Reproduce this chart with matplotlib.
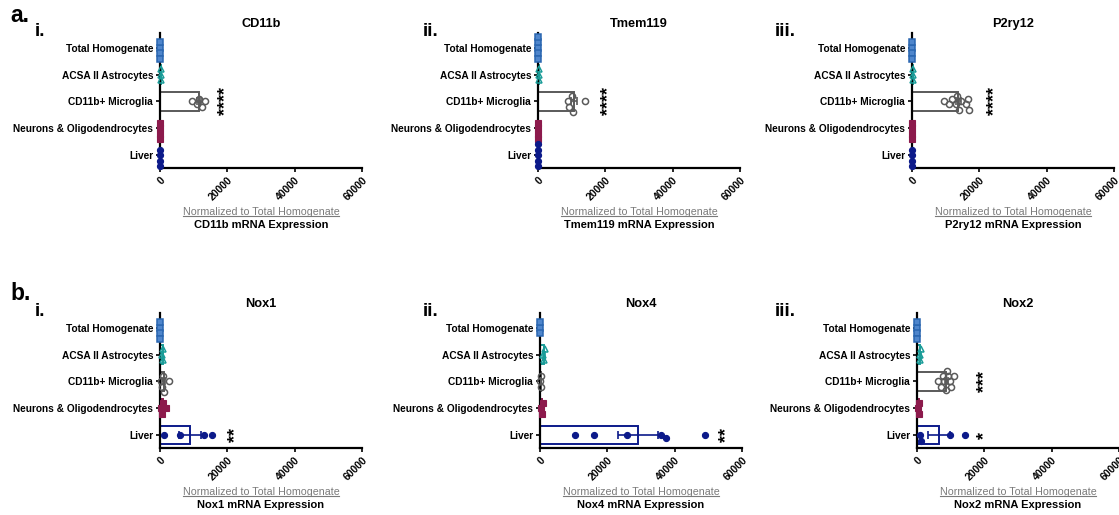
import numpy as np
import matplotlib
matplotlib.use("Agg")
import matplotlib.pyplot as plt
from matplotlib.lines import Line2D

plt.rcParams['font.family'] = ['Liberation Sans', 'DejaVu Sans']

categories = ["Total Homogenate", "ACSA II Astrocytes", "CD11b+ Microglia",
              "Neurons & Oligodendrocytes", "Liver"]
cat_colors = ["#2a66b0", "#1a9c98", "#5a5a5a", "#8c1a4c", "#0c1a8a"]
xticks = [0, 20000, 40000, 60000]

# points per category (fold change vs total homogenate)
cd11b = [[1, 1, 1, 1], [300, 400, 350], [9400, 10900, 11700, 12400, 13400],
         [60, 80, 100, 70], [10, 20, 15, 12]]
tmem119 = [[1, 1, 1, 1, 1], [200, 300, 250], [9300, 10000, 10500, 9000, 14000],
           [50, 70, 60, 80], [10, 15, 12, 20, 18]]
p2ry12 = [[1, 1, 1, 1], [200, 300, 250],
          [9500, 11000, 12000, 13000, 13500, 14000, 14500, 16000, 16500, 17000],
          [50, 70, 60, 80], [10, 15, 12, 20]]
nox1 = [[1, 1, 1, 1], [600, 800, 1000], [300, 600, 900, 1200, 2600],
        [300, 600, 900, 1900], [1200, 5900, 13100, 15300]]
nox4 = [[1, 1, 1], [800, 1200, 1600], [100, 200, 300], [400, 600, 900],
        [10500, 16100, 25700, 36000, 37500, 49000]]
nox2 = [[1, 1, 1, 1], [800, 1000, 1300],
        [6300, 7000, 7600, 8000, 8500, 8900, 9300, 9700, 10200, 10900],
        [300, 500, 700], [1000, 1100, 9700, 14300]]

# significance marks: (category index, x, text)
cd11b_sig = [(2, 19500, "****")]
tmem119_sig = [(2, 21000, "****")]
p2ry12_sig = [(2, 24500, "****")]
nox1_sig = [(4, 22500, "**")]
nox4_sig = [(4, 55500, "**")]
nox2_sig = [(2, 20000, "***"), (4, 20000, "*")]

panels = [
    ("CD11b", cd11b, cd11b_sig, "i.", 0),
    ("Tmem119", tmem119, tmem119_sig, "ii.", 0),
    ("P2ry12", p2ry12, p2ry12_sig, "iii.", 0),
    ("Nox1", nox1, nox1_sig, "i.", 1),
    ("Nox4", nox4, nox4_sig, "ii.", 1),
    ("Nox2", nox2, nox2_sig, "iii.", 1),
]

W, H = 1119, 515
fig = plt.figure(figsize=(W / 100, H / 100), dpi=100)

ax_w_px, ax_h_px = 202, 135
lefts = [[160, 538, 912], [160, 540, 917]]
bottoms = [168, 448]
numeral_x = [35, 423, 775]


def swarm(vals, xmax, diam=5.5):
    # simple beeswarm: spread overlapping points along the category axis
    vals = np.asarray(vals, float)
    placed = []
    offs = np.zeros(len(vals))
    cands = [0.0]
    for j in range(1, 30):
        cands += [j * 0.5, -j * 0.5]
    for i in np.argsort(vals):
        xp = vals[i] / xmax * ax_w_px
        for c in cands:
            yp = c * diam
            if all((xp - px) ** 2 + (yp - py) ** 2 >= (diam * 0.95) ** 2 for px, py in placed):
                break
        placed.append((xp, yp))
        offs[i] = yp / 27.0
    return offs


markers = ['s', '^', 'o', 's', 'o']
filled = [False, False, False, True, True]

for k, (gene, data, sig, numeral, row) in enumerate(panels):
    col = k % 3
    l = lefts[row][col]
    b = bottoms[row]
    ax = fig.add_axes([l / W, 1 - b / H, ax_w_px / W, ax_h_px / H])
    xmax = xticks[-1]
    for ci, pts in enumerate(data):
        pts = np.asarray(pts, float)
        mean = pts.mean()
        sem = pts.std(ddof=1) / np.sqrt(len(pts))
        c = cat_colors[ci]
        ax.barh(ci, mean, height=0.68, facecolor='none', edgecolor=c, linewidth=1.4, zorder=2)
        ax.errorbar(mean, ci, xerr=sem, fmt='none', ecolor=c, elinewidth=1.2,
                    capsize=3, capthick=1.2, zorder=3)
        offs = swarm(pts, xmax)
        if filled[ci]:
            ax.plot(pts, ci + offs, linestyle='none', marker=markers[ci], ms=4.4,
                    mfc=c, mec=c, mew=0.8, zorder=4, clip_on=False)
        else:
            ax.plot(pts, ci + offs, linestyle='none', marker=markers[ci], ms=4.4,
                    mfc='none' if ci else '#4f86cc', mec=c, mew=1.1, zorder=4, clip_on=False)
    for ci, xs, txt in sig:
        ax.text(xs, ci, txt, rotation=90, ha='center', va='center',
                fontsize=13, fontweight='bold')

    ax.set_xlim(0, xmax)
    ax.set_ylim(4.48, -0.55)
    ax.set_yticks(range(len(categories)))
    ax.set_yticklabels(categories, fontsize=7.3, fontweight='bold')
    ax.set_xticks(xticks)
    ax.set_xticklabels([str(t) for t in xticks], rotation=45, ha='right',
                       rotation_mode='anchor', fontsize=7.5, fontweight='bold')
    for s in ['top', 'right']:
        ax.spines[s].set_visible(False)
    for s in ['left', 'bottom']:
        ax.spines[s].set_linewidth(1.6)
    ax.tick_params(width=1.2, length=3, pad=2)
    ax.set_title(gene, fontsize=9.2, fontweight='bold', y=1.02, va='bottom', pad=0)

    ax.text(0.5, -0.326, "Normalized to Total Homogenate", transform=ax.transAxes,
            ha='center', va='center', fontsize=7.7, color='#7a7a7a')
    ax.text(0.5, -0.422, gene + " mRNA Expression", transform=ax.transAxes,
            ha='center', va='center', fontsize=8, fontweight='bold')

    top_px = b - ax_h_px
    fig.text(numeral_x[col] / W, 1 - (top_px - 2) / H, numeral, fontsize=13.5,
             fontweight='bold', ha='left', va='center')

fig.text(10 / W, 1 - 15 / H, "a.", fontsize=16.5, fontweight='bold', ha='left', va='center')
fig.text(10 / W, 1 - 293 / H, "b.", fontsize=16.5, fontweight='bold', ha='left', va='center')

# underline the gray "Normalized" lines
fig.canvas.draw()
r = fig.canvas.get_renderer()
for t in [t for a in fig.axes for t in a.texts if t.get_text().startswith("Normalized")]:
    bb = t.get_window_extent(r).transformed(fig.transFigure.inverted())
    fig.add_artist(Line2D([bb.x0, bb.x1], [bb.y0 + 0.001, bb.y0 + 0.001],
                          transform=fig.transFigure, color='#7a7a7a', lw=0.8))

fig.savefig("out.png", dpi=100)
